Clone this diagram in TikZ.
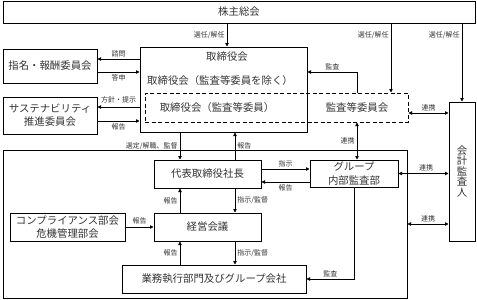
\documentclass[tikz,border=0pt]{standalone}
\usepackage{fontspec}
\setmainfont{Noto Sans CJK JP}
\usetikzlibrary{arrows.meta,positioning,calc}
\definecolor{ink}{HTML}{333333}
\tikzset{box/.style={draw,line width=1pt,inner sep=0pt,text=ink,font=\fontsize{10.4}{13}\selectfont,align=center},
txt/.style={inner sep=0pt,text=ink,font=\fontsize{10.4}{13}\selectfont},
tag/.style={text=ink,font=\fontsize{7}{8}\selectfont,inner sep=2pt},
flow/.style={-{Triangle[length=3.5pt,width=3.5pt]},line width=0.8pt},
both/.style={{Triangle[length=3.5pt,width=3.5pt]}-{Triangle[length=3.5pt,width=3.5pt]},line width=0.8pt}}
\begin{document}
\begin{tikzpicture}[x=1pt,y=-1pt]
\useasboundingbox (0,0) rectangle (477,300);
% shareholders and board
\node[box,minimum width=472pt,minimum height=22pt] (agm) at (239,12) {株主総会};
\node[box,minimum width=167pt,minimum height=85pt] (board) at (223.5,89.5) {};
\node[txt] (boardttl) at (227,57) {取締役会};
\node[txt] (boardex) at (220,81) {取締役会（監査等委員を除く）};
\node[box,dashed,dash pattern=on 4pt off 2.5pt,minimum width=263pt,minimum height=29pt] (acmbox) at (276.5,107.5) {};
\node[txt] (acmdir) at (217,108) {取締役会（監査等委員）};
\node[txt] (acm) at (357,108) {監査等委員会};
\node[box,minimum width=94pt,minimum height=34pt] (nom) at (50,66) {指名・報酬委員会};
\node[box,minimum width=94pt,minimum height=37pt] (sust) at (50,115.5) {サステナビリティ\\推進委員会};
\node[box,minimum width=26pt,minimum height=139pt,font=\fontsize{10.4}{10.5}\selectfont] (audit) at (462,171.5) {会\\計\\監\\査\\人};
% execution side
\node[box,minimum width=404pt,minimum height=148pt] (ops) at (205,224) {};
\node[box,minimum width=107pt,minimum height=28pt] (pres) at (207.5,174) {代表取締役社長};
\node[box,minimum width=88pt,minimum height=27pt,font=\fontsize{10.4}{14}\selectfont] (grp) at (354,173.5) {グループ\\内部監査部};
\node[box,minimum width=107pt,minimum height=28pt] (meeting) at (207.5,227) {経営会議};
\node[box,minimum width=115pt,minimum height=28pt] (comp) at (67.5,227) {コンプライアンス部会\\危機管理部会};
\node[box,minimum width=184pt,minimum height=28pt] (exec) at (214,279) {業務執行部門及びグループ会社};
% connectors
\draw[flow] (boardttl |- agm.south) -- node[tag,left]{選任/解任} (boardttl |- board.north);
\draw[flow] ([xshift=114.5pt]acmbox.north |- agm.south) -- node[tag,left,pos=.17]{選任/解任} ([xshift=114.5pt]acmbox.north);
\draw[flow] (audit.north |- agm.south) -- node[tag,left,pos=.15]{選任/解任} (audit.north);
\draw[flow] (acm |- acmbox.north) |- node[tag,above,pos=.75]{監査} ([yshift=17.5pt]board.east);
\draw[flow] ([yshift=7pt]nom.east -| board.west) -- node[tag,above]{諮問} ([yshift=7pt]nom.east);
\draw[flow] ([yshift=-6pt]nom.east) -- node[tag,below]{答申} ([yshift=-6pt]nom.east -| board.west);
\draw[flow] ([yshift=8.5pt]sust.east -| board.west) -- node[tag,above,yshift=2pt]{方針・提示} ([yshift=8.5pt]sust.east);
\draw[flow] ([yshift=-5.5pt]sust.east) -- node[tag,below]{報告} ([yshift=-5.5pt]sust.east -| board.west);
\draw[flow] ([xshift=-27.5pt]pres.north |- board.south) -- node[tag,left]{選定/解職、監督} ([xshift=-27.5pt]pres.north);
\draw[flow] ([xshift=27.5pt]pres.north) -- node[tag,right]{報告} ([xshift=27.5pt]pres.north |- board.south);
\draw[both] (acm |- acmbox.south) -- node[tag,left]{連携} (acm |- grp.north);
\draw[flow] ([yshift=4.5pt]grp.west -| pres.east) -- node[tag,above]{指示} ([yshift=4.5pt]grp.west);
\draw[flow] ([yshift=-8.5pt]grp.west) -- node[tag,below]{報告} ([yshift=-8.5pt]grp.west -| pres.east);
\draw[both] ([yshift=-5.5pt]acmbox.east) -- node[tag,above]{連携} ([yshift=-5.5pt]acmbox.east -| audit.west);
\draw[both] (grp.east) -- node[tag,above,pos=.55]{連携} (grp.east -| audit.west);
\draw[both] (ops.east) -- node[tag,above]{連携} (ops.east -| audit.west);
\draw[flow] ([xshift=-27.5pt]meeting.north) -- node[tag,left]{報告} ([xshift=-27.5pt]meeting.north |- pres.south);
\draw[flow] ([xshift=27.5pt]pres.south) -- node[tag,right]{指示/監督} ([xshift=27.5pt]pres.south |- meeting.north);
\draw[flow] (comp.east) -- node[tag,above]{報告} (meeting.west);
\draw[flow] ([xshift=-27.5pt]meeting.south |- exec.north) -- node[tag,left]{報告} ([xshift=-27.5pt]meeting.south);
\draw[flow] ([xshift=27.5pt]meeting.south) -- node[tag,right]{指示/監督} ([xshift=27.5pt]meeting.south |- exec.north);
\draw[flow] (grp.south) |- node[tag,above,pos=.75]{監査} (exec.east);
\end{tikzpicture}
\end{document}
